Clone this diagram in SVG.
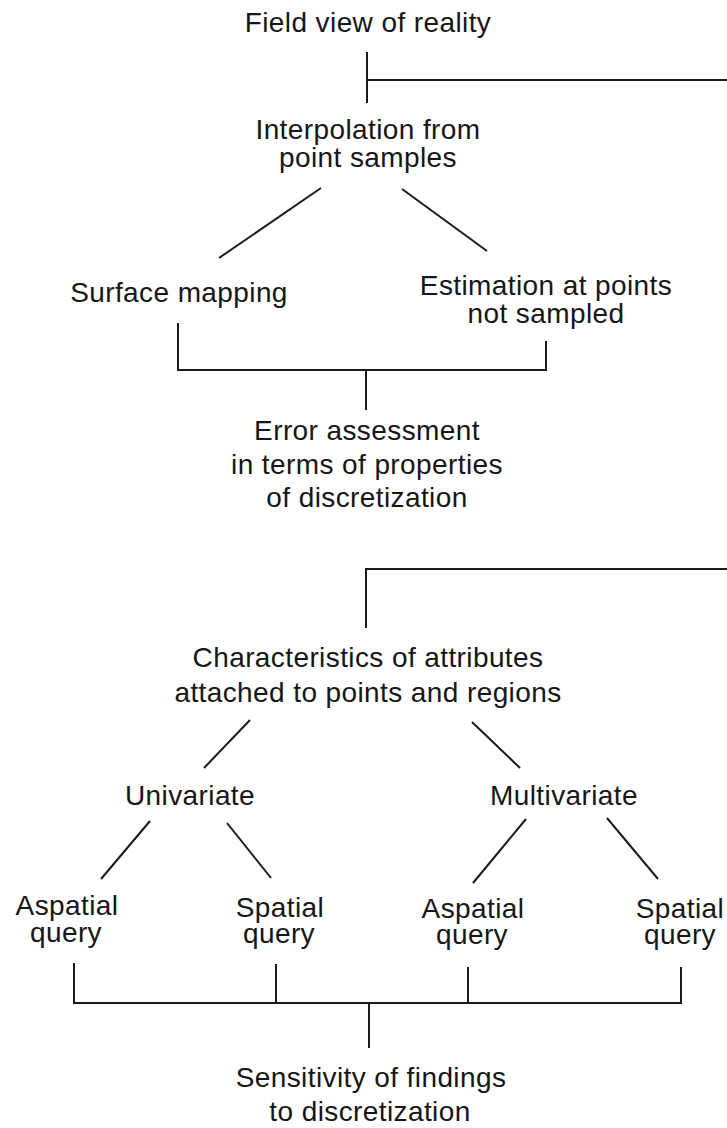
<svg xmlns="http://www.w3.org/2000/svg" width="727" height="1128" viewBox="0 0 727 1128">
  <style>
    .lbl { font-family: "Liberation Sans", Arial, Helvetica, sans-serif; font-size: 28px; letter-spacing: 0.4px; fill: #161616; text-anchor: middle; }
    .ln { stroke: #1a1a1a; stroke-width: 2; fill: none; stroke-linecap: butt; }
  </style>
  <rect width="727" height="1128" fill="#ffffff"/>

  <!-- connectors -->
  <g id="connectors" class="ln">
    <!-- from field view down to interpolation, with branch off to the right -->
    <line x1="367" y1="52" x2="367" y2="103"/>
    <line x1="367" y1="80" x2="727" y2="80"/>
    <!-- interpolation splits -->
    <line x1="321" y1="188" x2="219" y2="258"/>
    <line x1="402" y1="189" x2="487" y2="251"/>
    <!-- join into error assessment -->
    <polyline points="178,323 178,370 546,370 546,341"/>
    <line x1="366" y1="370" x2="366" y2="410"/>
    <!-- incoming branch to attribute characteristics -->
    <polyline points="727,569 366,569 366,628"/>
    <!-- attribute characteristics splits -->
    <line x1="250" y1="720" x2="204" y2="768"/>
    <line x1="472" y1="722" x2="520" y2="768"/>
    <!-- univariate splits -->
    <line x1="150" y1="821" x2="101" y2="879"/>
    <line x1="227" y1="823" x2="271" y2="878"/>
    <!-- multivariate splits -->
    <line x1="526" y1="819" x2="473" y2="883"/>
    <line x1="607" y1="818" x2="658" y2="879"/>
    <!-- queries join into sensitivity -->
    <polyline points="74,963 74,1003 681,1003 681,967"/>
    <line x1="276" y1="964" x2="276" y2="1003"/>
    <line x1="468" y1="967" x2="468" y2="1003"/>
    <line x1="369" y1="1003" x2="369" y2="1048"/>
  </g>

  <g id="field-view">
    <text class="lbl" x="368" y="32">Field view of reality</text>
  </g>
  <g id="interpolation">
    <text class="lbl" x="368" y="139">Interpolation from<tspan x="368" y="167">point samples</tspan></text>
  </g>
  <g id="surface-mapping">
    <text class="lbl" x="179" y="302">Surface mapping</text>
  </g>
  <g id="estimation">
    <text class="lbl" x="546" y="295">Estimation at points<tspan x="546" y="323">not sampled</tspan></text>
  </g>
  <g id="error-assessment">
    <text class="lbl" x="367" y="440">Error assessment<tspan x="367" y="474">in terms of properties</tspan><tspan x="367" y="507">of discretization</tspan></text>
  </g>
  <g id="attribute-characteristics">
    <text class="lbl" x="368" y="667">Characteristics of attributes<tspan x="368" y="702">attached to points and regions</tspan></text>
  </g>
  <g id="univariate">
    <text class="lbl" x="190" y="805">Univariate</text>
  </g>
  <g id="multivariate">
    <text class="lbl" x="564" y="805">Multivariate</text>
  </g>
  <g id="uni-aspatial">
    <text class="lbl" x="67" y="915">Aspatial<tspan x="66" y="942">query</tspan></text>
  </g>
  <g id="uni-spatial">
    <text class="lbl" x="280" y="917">Spatial<tspan x="279" y="943">query</tspan></text>
  </g>
  <g id="multi-aspatial">
    <text class="lbl" x="473" y="918">Aspatial<tspan x="472" y="944">query</tspan></text>
  </g>
  <g id="multi-spatial">
    <text class="lbl" x="680" y="918">Spatial<tspan x="680" y="944">query</tspan></text>
  </g>
  <g id="sensitivity">
    <text class="lbl" x="371" y="1087">Sensitivity of findings<tspan x="370" y="1121">to discretization</tspan></text>
  </g>
</svg>
